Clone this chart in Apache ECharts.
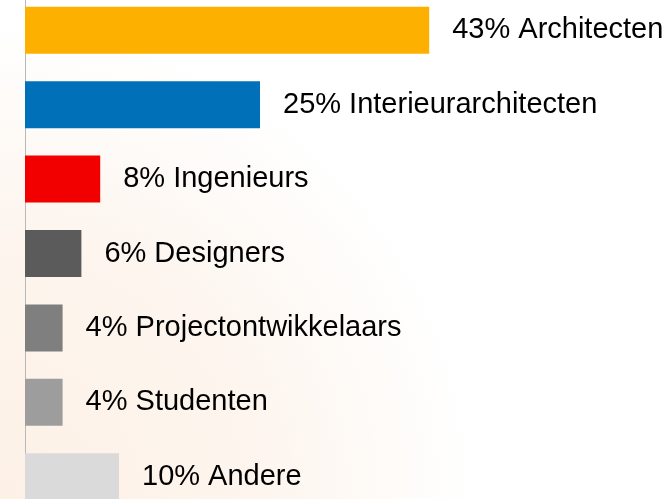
<!DOCTYPE html>
<html>
<head>
<meta charset="utf-8">
<script src="https://cdn.jsdelivr.net/npm/echarts@6/dist/echarts.min.js"></script>
<style>
html, body { margin: 0; padding: 0; background: #fff; }
#chart { width: 668px; height: 499px; }
</style>
</head>
<body>
<div id="chart"></div>
<script>
var categories = ['Architecten', 'Interieurarchitecten', 'Ingenieurs', 'Designers', 'Projectontwikkelaars', 'Studenten', 'Andere']
var values = [43, 25, 8, 6, 4, 4, 10]
var barColors = ['#fdb000', '#0071b9', '#f20000', '#5b5b5b', '#7f7f7f', '#9d9d9d', '#dadada']

var myChart = echarts.init(document.getElementById('chart'))
myChart.setOption({
  backgroundColor: {
    type: 'radial',
    x: 0,
    y: 1,
    r: 0.95,
    colorStops: [
      { offset: 0, color: '#fdf1e6' },
      { offset: 0.55, color: '#fdf5ee' },
      { offset: 1, color: '#ffffff' }
    ]
  },
  grid: {
    left: 25,
    right: 173,
    top: -7,
    bottom: -15,
    outerBoundsMode: 'none'
  },
  xAxis: {
    type: 'value',
    min: 0,
    max: 50,
    show: false
  },
  yAxis: {
    type: 'category',
    inverse: true,
    data: categories,
    axisLine: { show: true, lineStyle: { color: '#b8b8b8', width: 1 } },
    axisTick: { show: false },
    axisLabel: { show: false }
  },
  series: [{
    type: 'bar',
    barWidth: 47,
    animation: false,
    data: values.map(function (v, i) {
      return { value: v, itemStyle: { color: barColors[i] } }
    }),
    label: {
      show: true,
      position: 'right',
      distance: 23,
      formatter: '{c}% {b}',
      fontFamily: 'Liberation Sans, Arial, sans-serif',
      fontSize: 29,
      color: '#000'
    }
  }]
})
</script>
</body>
</html>
